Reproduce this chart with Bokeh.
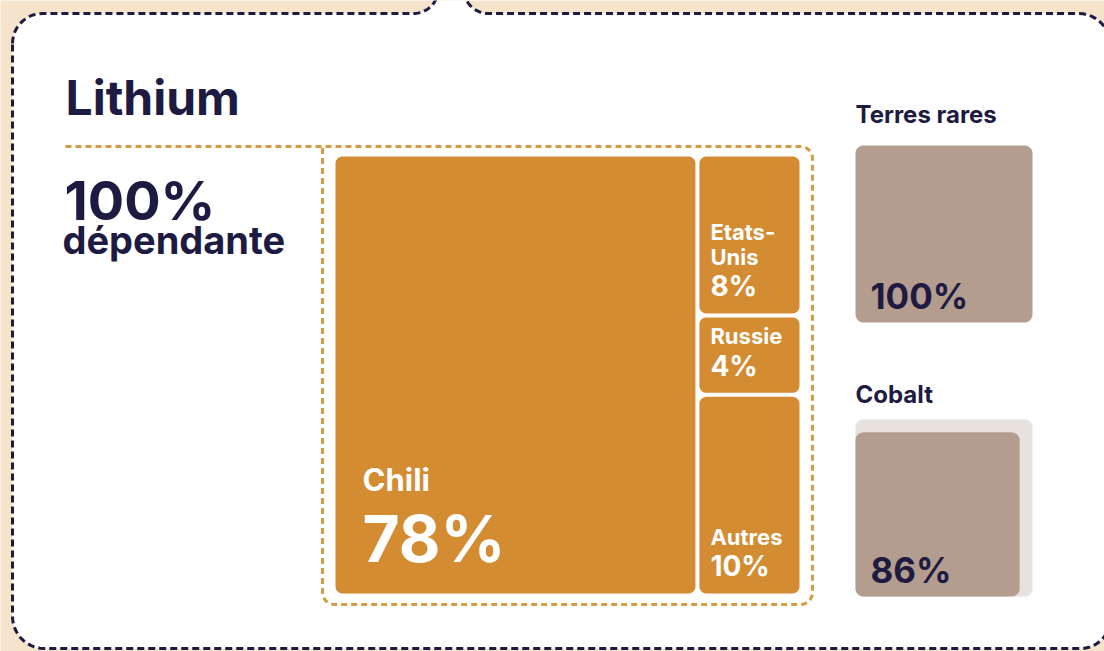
import numpy as np
from bokeh.plotting import figure
from bokeh.models import Range1d
from bokeh.core.properties import value
from bokeh.embed import file_html
from bokeh.resources import INLINE

# ---------------- data ----------------
title = "Lithium"
dependance_label = ["100%", "dépendante"]
lith_countries = ["Chili", "Etats-Unis", "Russie", "Autres"]
lith_label_lines = [["Chili"], ["Etats-", "Unis"], ["Russie"], ["Autres"]]
lith_shares = [78, 8, 4, 10]
other_minerals = ["Terres rares", "Cobalt"]
other_shares = [100, 86]

# ---------------- style ----------------
BEIGE = "#f5e3cc"
NAVY = "#1e1b42"
ORANGE = "#d38c32"
ORANGE_DASH = "#d69c45"
TAN = "#b49d8e"
TAN_LIGHT = "#e8e2de"
WHITE = "#ffffff"
FONT = value("Inter")
K = 0.4  # baseline correction factor

W, H = 1104, 651
p = figure(width=W, height=H, output_backend="svg", toolbar_location=None,
           x_range=Range1d(0, W), y_range=Range1d(H, 0),
           min_border=0, outline_line_color=None,
           background_fill_color=BEIGE, border_fill_color=BEIGE)
p.axis.visible = False
p.grid.visible = False


def label(x, base, txt, size, color):
    p.text(x=[x], y=[base - K * size], text=[txt], text_font=FONT, text_font_style="bold",
           text_font_size=f"{size}px", text_color=color, text_baseline="alphabetic")


def arc(cx, cy, r, a0, a1, n=12):
    t = np.linspace(np.radians(a0), np.radians(a1), n)
    return list(cx + r * np.cos(t)), list(cy + r * np.sin(t))


def rounded_rect(x0, y0, x1, y1, r):
    xs, ys = [], []
    for cx, cy, a0, a1 in [(x1 - r, y0 + r, 270, 360), (x1 - r, y1 - r, 0, 90),
                           (x0 + r, y1 - r, 90, 180), (x0 + r, y0 + r, 180, 270)]:
        ax, ay = arc(cx, cy, r, a0, a1)
        xs += ax
        ys += ay
    return xs, ys


# ---------------- card ----------------
cx, cy = [], []
ax, ay = arc(42, 43, 30, 180, 270)
cx += ax; cy += ay
cx += [413]; cy += [13]
bx, by = arc(413, -12, 25, 90, 35)
cx += bx; cy += by
cx += [450, 452]; cy += [-25, -25]
bx, by = arc(488, -12, 25, 145, 90)
cx += bx; cy += by
cx += [1078]; cy += [13]
ax, ay = arc(1078, 45, 32, 270, 360)
cx += ax; cy += ay
ax, ay = arc(1080, 618, 30, 0, 90)
cx += ax; cy += ay
ax, ay = arc(44, 616, 32, 90, 180)
cx += ax; cy += ay
p.patch(cx, cy, fill_color=WHITE, line_color=NAVY, line_width=3, line_dash="7 4")

# ---------------- title block ----------------
label(65, 116, title, 48, NAVY)
label(64, 222, dependance_label[0], 54, NAVY)
label(62, 255, dependance_label[1], 38, NAVY)

# ---------------- lithium frame ----------------
FX0, FY0, FX1, FY1, FR = 322, 146, 812, 604, 12
fx, fy = [65], [146]
ax, ay = arc(FX1 - FR, FY0 + FR, FR, 270, 360); fx += ax; fy += ay
ax, ay = arc(FX1 - FR, FY1 - FR, FR, 0, 90); fx += ax; fy += ay
ax, ay = arc(FX0 + FR, FY1 - FR, FR, 90, 180); fx += ax; fy += ay
fx += [FX0]; fy += [FY0]
p.line(fx, fy, line_color=ORANGE_DASH, line_width=3, line_dash="6 4")

# ---------------- treemap ----------------
TX0, TY0, TX1, TY1, GAP, TR = 335, 156, 799, 593, 4, 7
total = sum(lith_shares)
xs_split = TX0 + (TX1 - TX0) * lith_shares[0] / total
tiles = [(TX0, TY0, xs_split - GAP / 2, TY1)]
rest = lith_shares[1:]
ycur = TY0
for i, v in enumerate(rest):
    h = (TY1 - TY0) * v / sum(rest)
    top = ycur + (GAP / 2 if i > 0 else 0)
    bot = ycur + h - (GAP / 2 if i < len(rest) - 1 else 0)
    tiles.append((xs_split + GAP / 2, top, TX1, bot))
    ycur += h

px, py = [], []
for (x0, y0, x1, y1) in tiles:
    a, b = rounded_rect(x0, y0, x1, y1, TR)
    px.append(a); py.append(b)
p.patches(px, py, fill_color=ORANGE, line_color=None)

for i, ((x0, y0, x1, y1), lines, v) in enumerate(zip(tiles, lith_label_lines, lith_shares)):
    if i == 0:
        pct_size, name_size, lx, pb, lh, pad = 64, 31, x0 + 27, y1 - 29, 27, 73
    else:
        pct_size, name_size, lx, pb, lh, pad = 28, 22, x0 + 11, y1 - 16, 25, 32
    label(lx, pb, f"{v}%", pct_size, WHITE)
    for j, ln in enumerate(reversed(lines)):
        label(lx, pb - pad - j * lh, ln, name_size, WHITE)

# ---------------- other minerals ----------------
BOX_X, SIDE = 855, 177
box_tops = [145, 419]
title_base = [124, 404]
for name, v, top, tb in zip(other_minerals, other_shares, box_tops, title_base):
    bot = top + SIDE
    if v < 100:
        a, b = rounded_rect(BOX_X, top, BOX_X + SIDE, bot, 8)
        p.patch(a, b, fill_color=TAN_LIGHT, line_color=None)
    s = SIDE * np.sqrt(v / 100)
    a, b = rounded_rect(BOX_X, bot - s, BOX_X + s, bot, 8)
    p.patch(a, b, fill_color=TAN, line_color=None)
    label(BOX_X, tb, name, 24, NAVY)
    label(BOX_X + 15, bot - 13, f"{v}%", 35, NAVY)

open("out.html", "w").write(file_html(p, INLINE))
